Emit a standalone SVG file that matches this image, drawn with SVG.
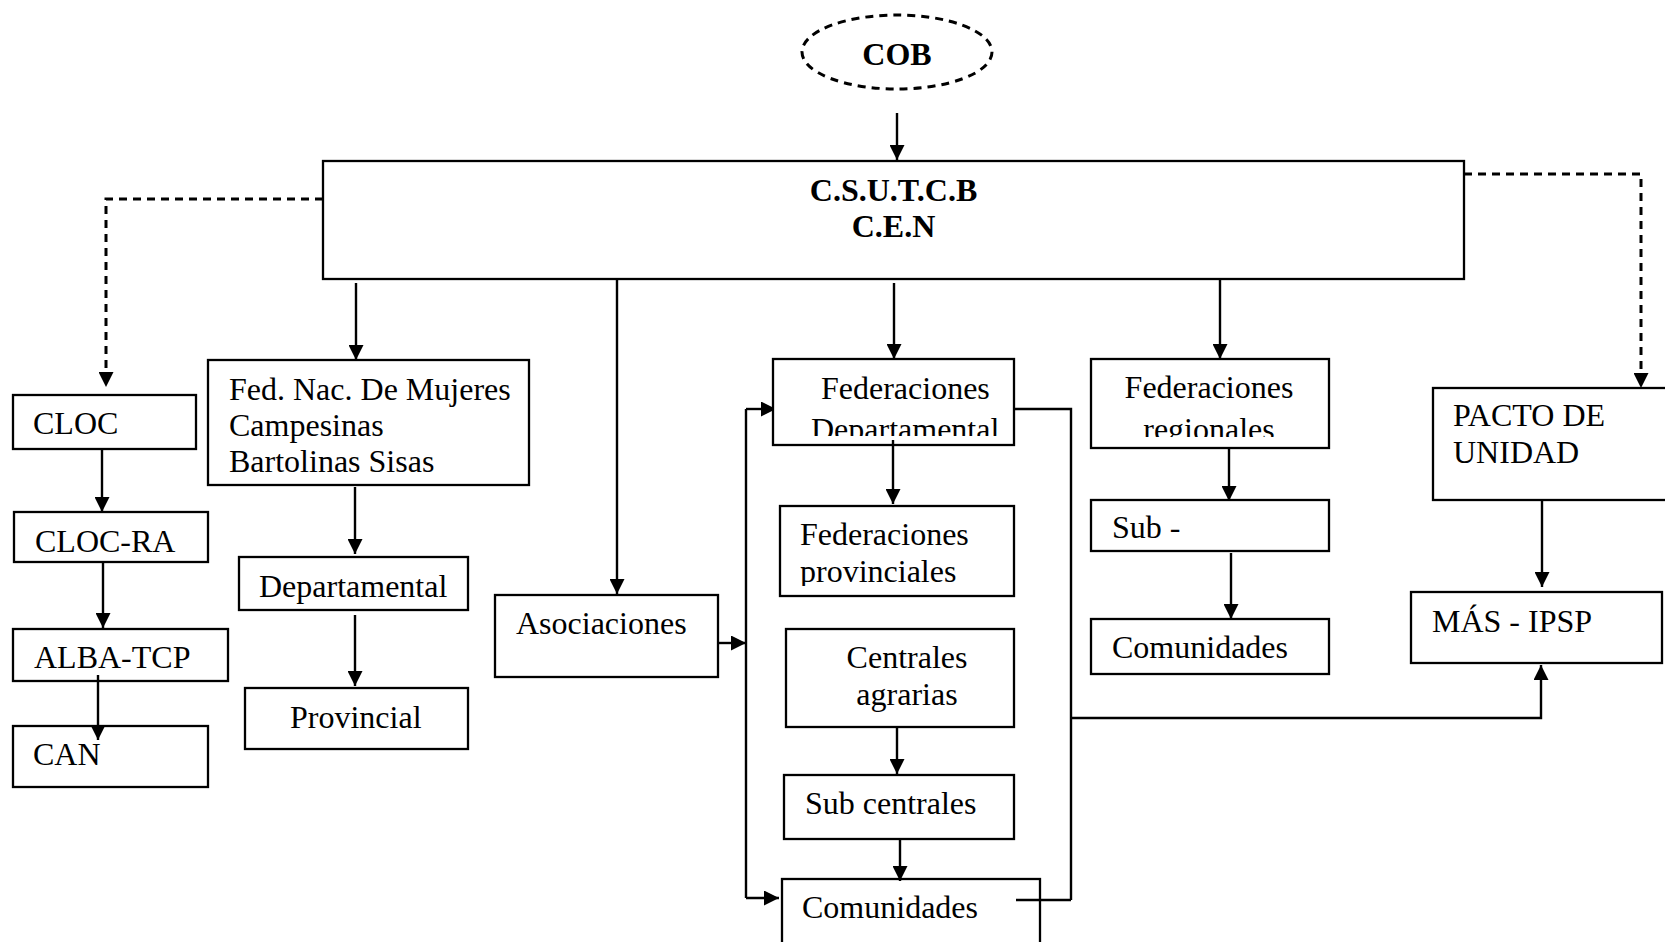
<svg xmlns="http://www.w3.org/2000/svg" width="1665" height="942" viewBox="0 0 1665 942">
<style>
.box{fill:#fff;stroke:#000;stroke-width:2.3}
.t{font-family:"Liberation Serif","Times New Roman",serif;font-size:32px;fill:#000}
.b{font-weight:bold}
.m{text-anchor:middle}
.c{fill:none;stroke:#000;stroke-width:2.4}
.d{fill:none;stroke:#000;stroke-width:3;stroke-dasharray:8 6}
</style>
<defs>
<marker id="ah" markerUnits="userSpaceOnUse" markerWidth="15" markerHeight="15" refX="15" refY="7.5" orient="auto">
<path d="M0,0 L15,7.5 L0,15 z" fill="#000"/>
</marker>
<clipPath id="clipDep"><rect x="773" y="359" width="241" height="77"/></clipPath>
<clipPath id="clipReg"><rect x="1091" y="359" width="238" height="78"/></clipPath>
<clipPath id="clipProv"><rect x="780" y="506" width="234" height="80"/></clipPath>
</defs>

<g id="connectors">
<line class="c" x1="897" y1="113" x2="897" y2="160" marker-end="url(#ah)"/>
<line class="c" x1="356" y1="283" x2="356" y2="360" marker-end="url(#ah)"/>
<line class="c" x1="617" y1="279" x2="617" y2="594" marker-end="url(#ah)"/>
<line class="c" x1="894" y1="283" x2="894" y2="359" marker-end="url(#ah)"/>
<line class="c" x1="1220" y1="280" x2="1220" y2="359" marker-end="url(#ah)"/>
<path class="d" d="M323,199 H106 V387" marker-end="url(#ah)"/>
<path class="d" d="M1464,174 H1641 V388" marker-end="url(#ah)"/>
<line class="c" x1="102" y1="449" x2="102" y2="512" marker-end="url(#ah)"/>
<line class="c" x1="103" y1="562" x2="103" y2="628" marker-end="url(#ah)"/>
<line class="c" x1="355" y1="487" x2="355" y2="554" marker-end="url(#ah)"/>
<line class="c" x1="355" y1="615" x2="355" y2="686" marker-end="url(#ah)"/>
<line class="c" x1="897" y1="727" x2="897" y2="774" marker-end="url(#ah)"/>
<line class="c" x1="746" y1="409" x2="746" y2="898"/>
<line class="c" x1="746" y1="409" x2="776" y2="409" marker-end="url(#ah)"/>
<line class="c" x1="718" y1="643" x2="746" y2="643" marker-end="url(#ah)"/>
<line class="c" x1="746" y1="898" x2="779" y2="898" marker-end="url(#ah)"/>
<path class="c" d="M1014,409 H1071 V900"/>
<path class="c" d="M1071,718 H1541 V665" marker-end="url(#ah)"/>
<line class="c" x1="1229" y1="448" x2="1229" y2="501" marker-end="url(#ah)"/>
<line class="c" x1="1231" y1="553" x2="1231" y2="619" marker-end="url(#ah)"/>
<line class="c" x1="1542" y1="500" x2="1542" y2="587" marker-end="url(#ah)"/>
</g>

<g id="cob">
<ellipse cx="897" cy="52" rx="95" ry="37" class="d"/>
<text class="t b m" x="897" y="65">COB</text>
</g>
<g id="csutcb">
<rect class="box" x="323" y="161" width="1141" height="118"/>
<text class="t b m" x="893.5" y="201">C.S.U.T.C.B</text>
<text class="t b m" x="893.5" y="237">C.E.N</text>
</g>
<g id="cloc">
<rect class="box" x="13" y="395" width="183" height="54"/>
<text class="t" x="33" y="434">CLOC</text>
</g>
<g id="cloc-ra">
<rect class="box" x="14" y="512" width="194" height="50"/>
<text class="t" x="35" y="552">CLOC-RA</text>
</g>
<g id="alba-tcp">
<rect class="box" x="13" y="629" width="215" height="52"/>
<text class="t" x="34" y="668">ALBA-TCP</text>
</g>
<g id="can">
<rect class="box" x="13" y="726" width="195" height="61"/>
<text class="t" x="33" y="765">CAN</text>
</g>
<g id="fed-nac">
<rect class="box" x="208" y="360" width="321" height="125"/>
<text class="t" x="229" y="400">Fed. Nac. De Mujeres</text>
<text class="t" x="229" y="436">Campesinas</text>
<text class="t" x="229" y="472">Bartolinas Sisas</text>
</g>
<g id="departamental">
<rect class="box" x="239" y="557" width="229" height="53"/>
<text class="t" x="259" y="597">Departamental</text>
</g>
<g id="provincial">
<rect class="box" x="245" y="688" width="223" height="61"/>
<text class="t" x="290" y="728">Provincial</text>
</g>
<g id="asociaciones">
<rect class="box" x="495" y="595" width="223" height="82"/>
<text class="t" x="516" y="634">Asociaciones</text>
</g>
<g id="fed-departamental">
<rect class="box" x="773" y="359" width="241" height="86"/>
<text class="t" x="821" y="399">Federaciones</text>
<text class="t" x="811" y="440" clip-path="url(#clipDep)">Departamental</text>
</g>
<g id="fed-provinciales">
<rect class="box" x="780" y="506" width="234" height="90"/>
<text class="t" x="800" y="545">Federaciones</text>
<text class="t" x="800" y="582" clip-path="url(#clipProv)">provinciales</text>
</g>
<g id="centrales">
<rect class="box" x="786" y="629" width="228" height="98"/>
<text class="t m" x="907" y="668">Centrales</text>
<text class="t m" x="907" y="705">agrarias</text>
</g>
<g id="sub-centrales">
<rect class="box" x="784" y="775" width="230" height="64"/>
<text class="t" x="805" y="814">Sub centrales</text>
</g>
<g id="comunidades-1">
<rect class="box" x="782" y="879" width="258" height="90"/>
<text class="t" x="802" y="918">Comunidades</text>
</g>
<g id="fed-regionales">
<rect class="box" x="1091" y="359" width="238" height="89"/>
<text class="t m" x="1209" y="398">Federaciones</text>
<text class="t m" x="1209" y="440" clip-path="url(#clipReg)">regionales</text>
</g>
<g id="sub">
<rect class="box" x="1091" y="500" width="238" height="51"/>
<text class="t" x="1112" y="538">Sub -</text>
</g>
<g id="comunidades-2">
<rect class="box" x="1091" y="619" width="238" height="55"/>
<text class="t" x="1112" y="658">Comunidades</text>
</g>
<g id="pacto">
<rect class="box" x="1433" y="388" width="260" height="112"/>
<text class="t" x="1453" y="426">PACTO DE</text>
<text class="t" x="1453" y="463">UNIDAD</text>
</g>
<g id="mas-ipsp">
<rect class="box" x="1411" y="592" width="251" height="71"/>
<text class="t" x="1432" y="632">MÁS - IPSP</text>
</g>

<g id="connectors-over-boxes">
<line class="c" x1="98" y1="675" x2="98" y2="740" marker-end="url(#ah)"/>
<line class="c" x1="893" y1="440" x2="893" y2="504" marker-end="url(#ah)"/>
<line class="c" x1="900" y1="839" x2="900" y2="881" marker-end="url(#ah)"/>
<line class="c" x1="1016" y1="900" x2="1071" y2="900"/>
</g>
</svg>
